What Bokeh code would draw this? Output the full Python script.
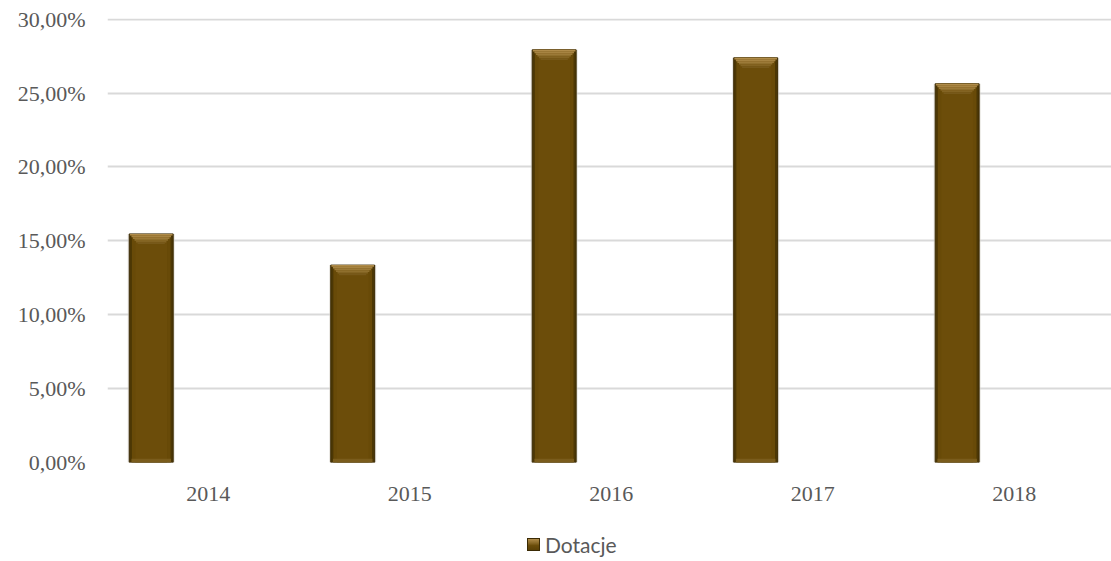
from bokeh.plotting import figure
from bokeh.layouts import column
from bokeh.models import Range1d, FixedTicker, CustomJSTickFormatter, ColumnDataSource, Div
from bokeh.embed import file_html
from bokeh.resources import INLINE

years = ["2014", "2015", "2016", "2017", "2018"]
dotacje = [15.47, 13.36, 27.93, 27.39, 25.63]
series_name = "Dotacje"
y_ticks = [0, 5, 10, 15, 20, 25, 30]

xs = list(range(len(years)))
offset = -0.283
bw = 0.218
bar_x = [x + offset for x in xs]

p = figure(width=1111, height=512, output_backend="svg", toolbar_location=None,
           x_range=Range1d(-0.5, 4.483), y_range=Range1d(0, 30.05),
           min_border_left=107, min_border_right=0, min_border_top=18, min_border_bottom=50)
p.outline_line_color = None
p.background_fill_color = "white"

# gridlines
p.xgrid.grid_line_color = None
p.ygrid.grid_line_color = "#d9d9d9"
p.ygrid.grid_line_width = 2
p.ygrid.ticker = FixedTicker(ticks=y_ticks)

src = ColumnDataSource(dict(x=bar_x, top=dotacje))

# shadow
p.vbar(x="x", top="top", bottom=-0.15, width=bw * 1.07, source=src,
       fill_color="#d6d2ca", fill_alpha=0.6, line_color=None)
# outer (dark edge)
p.vbar(x="x", top="top", bottom=0, width=bw, source=src,
       fill_color="#4c3705", line_color="#3a2a04", line_width=1)
# inner body
p.vbar(x="x", top="top", bottom=0, width=bw * 0.88, source=src,
       fill_color="#684a08", line_color=None)
p.vbar(x="x", top="top", bottom=0, width=bw * 0.72, source=src,
       fill_color="#6c4d0a", line_color=None)
# top bevel (stacked bands forming a trapezoid)
bevel_cols = ["#b08c4a", "#a78442", "#9c7a38", "#8f6f2d", "#836423", "#77591a"]
h = 0.115
for k, c in enumerate(bevel_cols):
    p.vbar(x=bar_x, top=[v - k * h for v in dotacje], bottom=[v - (k + 1) * h for v in dotacje],
           width=bw * (0.97 - k * 0.07), fill_color=c, line_color=None)
# bottom bevel
p.vbar(x=bar_x, top=[0.25] * len(dotacje), bottom=0, width=bw * 0.9,
       fill_color="#7a5c1c", line_color=None)

# axes
p.xaxis.ticker = FixedTicker(ticks=xs)
p.xaxis.major_label_overrides = {i: y for i, y in enumerate(years)}
p.yaxis.ticker = FixedTicker(ticks=y_ticks)
p.yaxis.formatter = CustomJSTickFormatter(code="return tick.toFixed(2).replace('.', ',') + '%';")
for ax in (p.xaxis[0], p.yaxis[0]):
    ax.axis_line_color = None
    ax.major_tick_line_color = None
    ax.minor_tick_line_color = None
    ax.major_label_text_font = "Liberation Serif"
    ax.major_label_text_font_size = "22px"
    ax.major_label_text_color = "#595959"
p.yaxis.major_label_standoff = 16
p.xaxis.major_label_standoff = 18

# legend (HTML strip below the chart)
swatch = ('<span style="display:inline-block;width:13px;height:13px;margin-right:5px;'
          'vertical-align:middle;box-sizing:border-box;border:1px solid #3a2a04;'
          'background:linear-gradient(180deg,#b08c4a 0%,#8a6a28 35%,#6a4c09 60%,#5a4107 100%);"></span>')
legend_html = ('<div style="margin-left:522px;margin-top:12px;font-family:Lato;font-size:21px;'
               'color:#595959;line-height:25px;white-space:nowrap;">' + swatch +
               '<span style="vertical-align:middle;">' + series_name + '</span></div>')
lg = Div(text=legend_html, width=1111, height=45)

layout = column(p, lg, spacing=0)
open("out.html", "w").write(file_html(layout, INLINE))
